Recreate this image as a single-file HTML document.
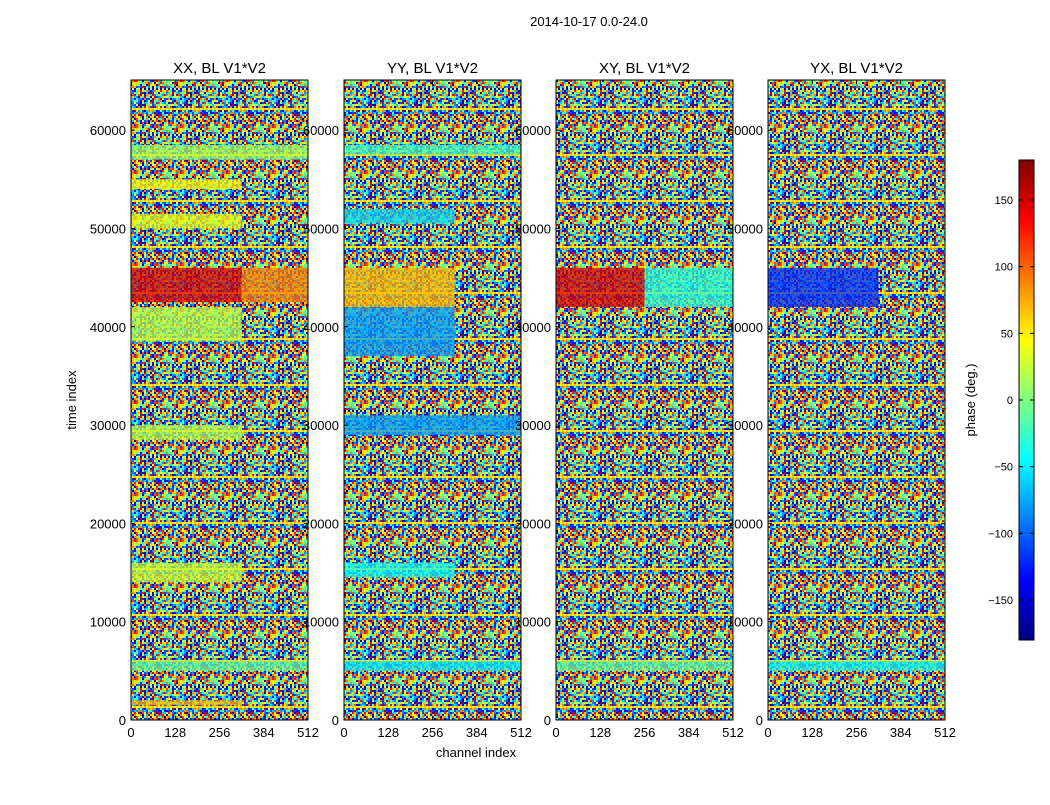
<!DOCTYPE html>
<html><head><meta charset="utf-8">
<style>
html,body{margin:0;padding:0;background:#fff;}
body{width:1050px;height:800px;overflow:hidden;font-family:"Liberation Sans","DejaVu Sans",sans-serif;}
svg text{font-family:"Liberation Sans","DejaVu Sans",sans-serif;}
</style></head>
<body>
<svg id="chart" width="1050" height="800" xmlns="http://www.w3.org/2000/svg">
<defs>
<pattern id="noise" patternUnits="userSpaceOnUse" width="46" height="46"></pattern>
</defs>
<text x="589" y="26" font-size="13" text-anchor="middle">2014-10-17 0.0-24.0</text>
<g id="panels"></g>
<text x="476" y="757" font-size="13" text-anchor="middle">channel index</text>
<text x="0" y="0" font-size="13" text-anchor="middle" transform="translate(76,400) rotate(-90)">time index</text>
<g id="cbar"></g>
<text x="0" y="0" font-size="13" text-anchor="middle" transform="translate(975,400) rotate(-90)">phase (deg.)</text>
</svg>
<script>
// ---- data ----
const panelTitles = ["XX, BL V1*V2","YY, BL V1*V2","XY, BL V1*V2","YX, BL V1*V2"];
const xTicks = [0,128,256,384,512];
const yTicks = [0,10000,20000,30000,40000,50000,60000];
const cbarTicks = [-150,-100,-50,0,50,100,150];
// bands: [tStart, tEnd, chStart, chEnd, phase]
const bandsXX = [[57000,58500,0,512,15],[54000,55000,0,320,45],[50000,51500,0,320,35],[42500,46000,0,320,150],[42500,46000,320,512,90],[38500,42000,0,320,20],[28500,30000,0,320,20],[14000,16000,0,320,25],[5000,6000,0,512,-10],[1500,2000,0,320,70]];
const bandsYY = [[57500,58500,0,512,-20],[50500,52000,0,320,-60],[42000,46000,0,320,70],[37000,42000,0,320,-80],[29000,31000,0,512,-80],[14500,16000,0,320,-40],[5000,6000,0,512,-50]];
const bandsXY = [[42000,46000,0,256,150],[42000,46000,256,512,-30],[5000,6000,0,512,-10]];
const bandsYX = [[42000,46000,0,320,-120],[5000,6000,0,512,-40]];
const allBands = [bandsXX,bandsYY,bandsXY,bandsYX];
const panelLeft = [131,344,556,768];
// ---- helpers ----
const NS="http://www.w3.org/2000/svg";
const PW=177, PT=80, PB=720, TMAX=65100, CHMAX=512;
function jet(v){ // v in -180..180
  let t=(v+180)/360;
  const f=(a)=>Math.max(0,Math.min(1,1.5-Math.abs(4*t-a)));
  return `rgb(${Math.round(255*f(3))},${Math.round(255*f(2))},${Math.round(255*f(1))})`;
}
function yScale(t){return PB-(t/TMAX)*(PB-PT);}
function xScale(px,c){return px+(c/CHMAX)*PW;}
function mk(tag,attrs,parent){const e=document.createElementNS(NS,tag);for(const k in attrs)e.setAttribute(k,attrs[k]);parent.appendChild(e);return e;}
// noise texture (styling only)
const pat=document.getElementById('noise');
const pal=[-150,-110,-60,-10,40,90,130,20,-85,160,-30,65,-130,110];
for(let i=0;i<23;i++)for(let j=0;j<23;j++){
  mk('rect',{x:i*2,y:j*2,width:2,height:2,fill:jet(pal[(i*7+j*11+((i+3)*(j+5)*(i+j+2))%13)%14])},pat);
}
const panels=document.getElementById('panels');
panelTitles.forEach((title,p)=>{
  const px=panelLeft[p];
  const g=mk('g',{},panels);
  
  
  const bg=mk('rect',{x:px,y:PT,width:PW,height:PB-PT,fill:'url(#noise)'},g);
  
  
  allBands[p].forEach(b=>{
    const r=mk('rect',{x:xScale(px,b[2]),y:yScale(b[1]),width:xScale(px,b[3])-xScale(px,b[2]),height:yScale(b[0])-yScale(b[1]),fill:jet(b[4]),opacity:0.75},g);
    
    
  });
  mk('rect',{x:px,y:PT,width:PW,height:PB-PT,fill:'none',stroke:'#000','stroke-width':1},g);
  const tt=mk('text',{x:px+PW/2,y:PT-7,'font-size':15,'text-anchor':'middle'},g);
  tt.textContent=title;
  
  
  xTicks.forEach(c=>{
    const x=xScale(px,c);
    mk('line',{x1:x,x2:x,y1:PB,y2:PB-4,stroke:'#000'},g);
    mk('line',{x1:x,x2:x,y1:PT,y2:PT+4,stroke:'#000'},g);
    const t=mk('text',{x:x,y:PB+17,'font-size':13,'text-anchor':'middle'},g);
    t.textContent=c;
    
    
  });
  yTicks.forEach(v=>{
    const y=yScale(v);
    mk('line',{x1:px,x2:px+4,y1:y,y2:y,stroke:'#000'},g);
    mk('line',{x1:px+PW,x2:px+PW-4,y1:y,y2:y,stroke:'#000'},g);
    const t=mk('text',{x:px-5,y:y+5,'font-size':13,'text-anchor':'end'},g);
    t.textContent=v;
    
    
  });
});
// colorbar
const cb=document.getElementById('cbar');
const CX=1019,CW=15,CT=160,CB=640;
const grad=mk('linearGradient',{id:'jetgrad',x1:0,y1:1,x2:0,y2:0},document.querySelector('defs'));
for(let i=0;i<=8;i++){mk('stop',{offset:i/8,'stop-color':jet(-180+i*45)},grad);}
mk('rect',{x:CX,y:CT,width:CW,height:CB-CT,fill:'url(#jetgrad)',stroke:'#000'},cb);
cbarTicks.forEach(v=>{
  const y=CB-((v+180)/360)*(CB-CT);
  mk('line',{x1:CX,x2:CX+4,y1:y,y2:y,stroke:'#000'},cb);
  mk('line',{x1:CX+CW,x2:CX+CW-4,y1:y,y2:y,stroke:'#000'},cb);
  const t=mk('text',{x:CX-6,y:y+4,'font-size':11,'text-anchor':'end'},cb);
  t.textContent=v<0?'\u2212'+(-v):v;
  
  
});
</script>
</body></html>
